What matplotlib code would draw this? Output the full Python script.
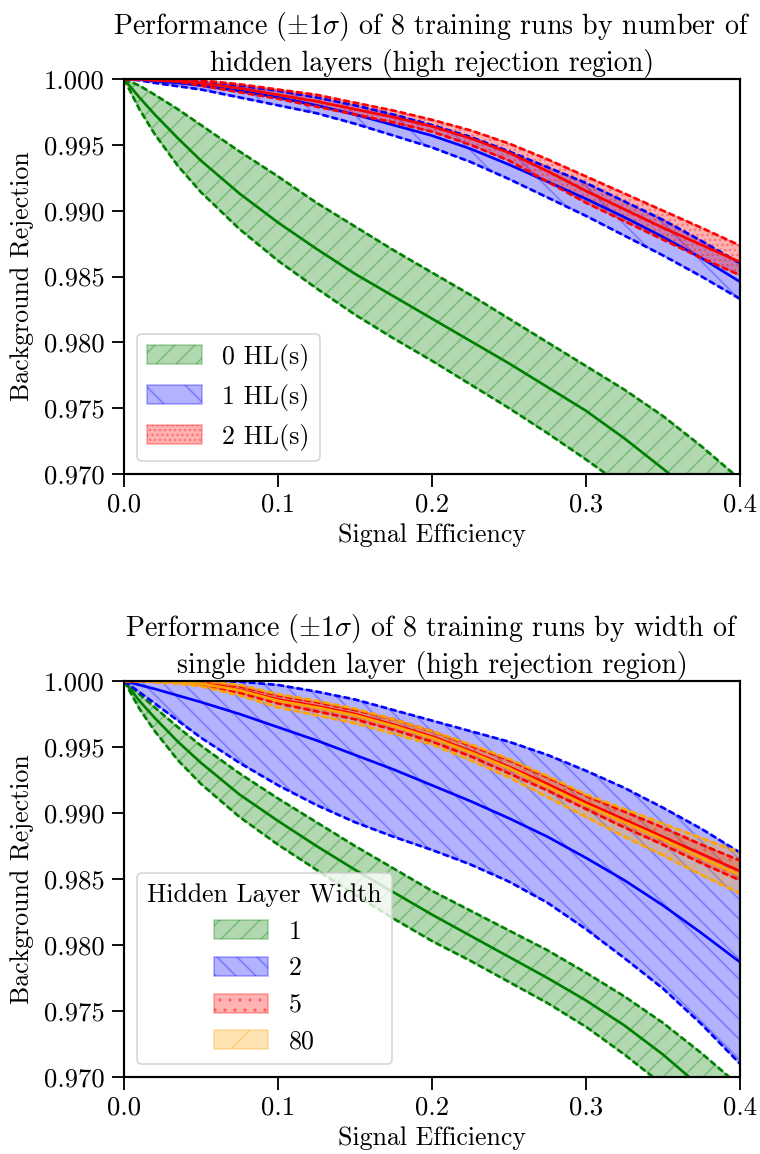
import matplotlib
matplotlib.use("Agg")
import matplotlib.pyplot as plt

# Schrift wie im LaTeX-Original
plt.rcParams["font.family"] = "serif"
plt.rcParams["font.serif"] = ["cmr10"]
plt.rcParams["mathtext.fontset"] = "cm"
plt.rcParams["axes.unicode_minus"] = False
plt.rcParams["axes.formatter.use_mathtext"] = True
plt.rcParams["hatch.linewidth"] = 1.0

# Signal efficiency grid (shared by all curves)
sig_eff = [0.0, 0.01, 0.02, 0.035, 0.05, 0.075, 0.1, 0.125, 0.15, 0.175,
           0.2, 0.225, 0.25, 0.275, 0.3, 0.325, 0.35, 0.375, 0.4]

# --- top panel: number of hidden layers ---
hl0_mean = [1.0, 0.9986, 0.9973, 0.9955, 0.9938, 0.9913, 0.9891, 0.9871, 0.9852, 0.9835,
            0.9818, 0.9801, 0.9784, 0.9766, 0.9748, 0.9727, 0.9704, 0.9680, 0.9655]
hl0_hi = [1.0, 0.9995, 0.9988, 0.9977, 0.9965, 0.9945, 0.9926, 0.9906, 0.9888, 0.9870,
          0.9853, 0.9836, 0.9818, 0.9800, 0.9782, 0.9764, 0.9744, 0.9721, 0.9696]
hl0_lo = [1.0, 0.9977, 0.9958, 0.9934, 0.9914, 0.9886, 0.9862, 0.9841, 0.9821, 0.9803,
          0.9786, 0.9768, 0.9750, 0.9731, 0.9711, 0.9690, 0.9667, 0.9641, 0.9615]

hl1_mean = [1.0, 0.99995, 0.99985, 0.9997, 0.9995, 0.9991, 0.9986, 0.9980, 0.9973, 0.9965,
            0.9957, 0.9947, 0.9935, 0.9922, 0.9909, 0.9895, 0.9880, 0.9864, 0.9846]
hl1_hi = [1.0, 1.0, 0.99995, 0.9999, 0.9998, 0.9995, 0.9991, 0.9986, 0.9980, 0.9973,
          0.9965, 0.9956, 0.9945, 0.9933, 0.9921, 0.9907, 0.9893, 0.9877, 0.9860]
hl1_lo = [1.0, 0.9999, 0.9997, 0.99945, 0.9992, 0.9986, 0.9980, 0.9974, 0.9966, 0.9957,
          0.9948, 0.9937, 0.9924, 0.9910, 0.9896, 0.9881, 0.9866, 0.9850, 0.9833]

hl2_mean = [1.0, 1.0, 0.9999, 0.99985, 0.9997, 0.9993, 0.9988, 0.9983, 0.9977, 0.9971,
            0.9964, 0.9955, 0.9944, 0.9930, 0.9915, 0.9901, 0.9887, 0.9874, 0.9861]
hl2_hi = [1.0, 1.0, 1.0, 0.99995, 0.9999, 0.9996, 0.9992, 0.9988, 0.9982, 0.9976,
          0.9969, 0.9961, 0.9951, 0.9939, 0.9926, 0.9913, 0.9900, 0.9887, 0.98735]
hl2_lo = [1.0, 0.99995, 0.9999, 0.9998, 0.9995, 0.9990, 0.9985, 0.9979, 0.9973, 0.9967,
          0.9960, 0.9950, 0.9938, 0.9922, 0.9906, 0.9892, 0.9878, 0.9864, 0.9851]

# --- bottom panel: width of single hidden layer ---
w1_mean = [1.0, 0.9985, 0.9972, 0.9954, 0.9938, 0.9914, 0.9894, 0.9875, 0.9857, 0.9840,
           0.9823, 0.9807, 0.9791, 0.9775, 0.9758, 0.9739, 0.9717, 0.9692, 0.9666]
w1_hi = [1.0, 0.9990, 0.9980, 0.9965, 0.9951, 0.9930, 0.9911, 0.9893, 0.9875, 0.9858,
         0.9841, 0.9826, 0.9811, 0.9796, 0.9779, 0.9761, 0.9741, 0.9718, 0.9693]
w1_lo = [1.0, 0.9979, 0.9962, 0.9940, 0.9922, 0.9897, 0.9876, 0.9857, 0.9838, 0.9820,
         0.9803, 0.9788, 0.9772, 0.9756, 0.9738, 0.9717, 0.9694, 0.9668, 0.9641]

w2_mean = [1.0, 0.9997, 0.9994, 0.9989, 0.9984, 0.9975, 0.9965, 0.9955, 0.9944, 0.9933,
           0.9921, 0.9909, 0.9896, 0.9882, 0.9866, 0.9849, 0.9830, 0.9809, 0.9787]
w2_hi = [1.0, 1.0, 1.0, 1.0, 1.0, 0.99995, 0.9997, 0.9992, 0.9986, 0.9978,
         0.9970, 0.9962, 0.9954, 0.9944, 0.9932, 0.9919, 0.9904, 0.9888, 0.9870]
w2_lo = [1.0, 0.99915, 0.9983, 0.9970, 0.9957, 0.9938, 0.9921, 0.9906, 0.9893, 0.9882,
         0.9872, 0.9861, 0.9848, 0.9832, 0.9812, 0.9790, 0.9767, 0.9740, 0.9710]

w5_mean = [1.0, 1.0, 1.0, 0.99995, 0.9999, 0.99935, 0.9986, 0.9981, 0.9975, 0.9967,
           0.9958, 0.9947, 0.9935, 0.9922, 0.9908, 0.9895, 0.9882, 0.9869, 0.9856]
w5_hi = [1.0, 1.0, 1.0, 1.0, 1.0, 0.9996, 0.9989, 0.9984, 0.9978, 0.9971,
         0.9962, 0.9951, 0.9940, 0.9927, 0.9913, 0.9901, 0.9889, 0.9876, 0.9864]
w5_lo = [1.0, 1.0, 0.99995, 0.9999, 0.9997, 0.9991, 0.9983, 0.9977, 0.9971, 0.9963,
         0.9954, 0.9943, 0.9930, 0.9917, 0.9903, 0.9889, 0.9876, 0.9862, 0.9849]

w80_mean = [1.0, 1.0, 1.0, 0.99995, 0.9998, 0.9993, 0.9985, 0.9980, 0.9974, 0.9966,
            0.9957, 0.9946, 0.9934, 0.9920, 0.9906, 0.9893, 0.9880, 0.9866, 0.9853]
w80_hi = [1.0, 1.0, 1.0, 1.0, 1.0, 0.9997, 0.9990, 0.9985, 0.9979, 0.9971,
          0.9962, 0.9952, 0.9941, 0.9928, 0.9914, 0.9903, 0.9892, 0.9881, 0.9870]
w80_lo = [1.0, 1.0, 0.9999, 0.9998, 0.9996, 0.9989, 0.9980, 0.9974, 0.9968, 0.9960,
          0.9952, 0.9940, 0.9927, 0.9912, 0.9897, 0.9882, 0.9868, 0.9853, 0.9839]

top_labels = ["0 HL(s)", "1 HL(s)", "2 HL(s)"]
bottom_labels = ["1", "2", "5", "80"]

TITLE_SIZE = 16.8
TICK_SIZE = 16
LABEL_SIZE = 15.5
LW = 1.6


def band(ax, mean, lo, hi, color, hatch, label):
    """Fill +-1 sigma band, dashed edges, solid mean"""
    ax.fill_between(sig_eff, lo, hi, color=color, alpha=0.3, hatch=hatch, label=label)
    ax.plot(sig_eff, mean, color=color, lw=LW)
    ax.plot(sig_eff, hi, color=color, lw=LW, ls=(0, (2.5, 1.1)))
    ax.plot(sig_eff, lo, color=color, lw=LW, ls=(0, (2.5, 1.1)))


def style_axes(ax, title):
    ax.set_xlim(0.0, 0.4)
    ax.set_ylim(0.97, 1.0)
    ax.set_xticks([0.0, 0.1, 0.2, 0.3, 0.4])
    ax.set_xticklabels(["0.0", "0.1", "0.2", "0.3", "0.4"])
    yt = [0.970, 0.975, 0.980, 0.985, 0.990, 0.995, 1.000]
    ax.set_yticks(yt)
    ax.set_yticklabels([f"{v:.3f}" for v in yt])
    ax.tick_params(direction="out", length=7.5, width=1.1, pad=4, labelsize=TICK_SIZE)
    for s in ax.spines.values():
        s.set_linewidth(1.3)
    ax.set_xlabel("Signal Efficiency", fontsize=LABEL_SIZE, labelpad=4)
    ax.set_ylabel("Background Rejection", fontsize=LABEL_SIZE, labelpad=6)
    ax.set_title(title, fontsize=TITLE_SIZE, pad=5, linespacing=1.25)


fig = plt.figure(figsize=(760 / 120, 1154 / 120), dpi=120)
ax1 = fig.add_axes([124 / 760, 1 - 474 / 1154, 616 / 760, 395 / 1154])
ax2 = fig.add_axes([124 / 760, 1 - 1077 / 1154, 616 / 760, 396 / 1154])

band(ax1, hl0_mean, hl0_lo, hl0_hi, "green", "//", top_labels[0])
band(ax1, hl1_mean, hl1_lo, hl1_hi, "blue", "\\", top_labels[1])
band(ax1, hl2_mean, hl2_lo, hl2_hi, "red", "....", top_labels[2])
style_axes(ax1, "Performance ($\\pm1\\sigma$) of 8 training runs by number of\n"
                "hidden layers (high rejection region)")
ax1.legend(loc="lower left", fontsize=LABEL_SIZE, handlelength=2.1, handleheight=0.75,
           labelspacing=0.5, borderaxespad=0.5, fancybox=True)

band(ax2, w1_mean, w1_lo, w1_hi, "green", "//", bottom_labels[0])
band(ax2, w2_mean, w2_lo, w2_hi, "blue", "\\\\", bottom_labels[1])
band(ax2, w5_mean, w5_lo, w5_hi, "red", "..", bottom_labels[2])
band(ax2, w80_mean, w80_lo, w80_hi, "orange", "/", bottom_labels[3])
style_axes(ax2, "Performance ($\\pm1\\sigma$) of 8 training runs by width of\n"
                "single hidden layer (high rejection region)")
ax2.legend(loc="lower left", title="Hidden Layer Width", fontsize=LABEL_SIZE,
           title_fontsize=LABEL_SIZE, handlelength=2.1, handleheight=0.75,
           labelspacing=0.5, borderaxespad=0.5, fancybox=True)

fig.savefig("out.png", dpi=120)
